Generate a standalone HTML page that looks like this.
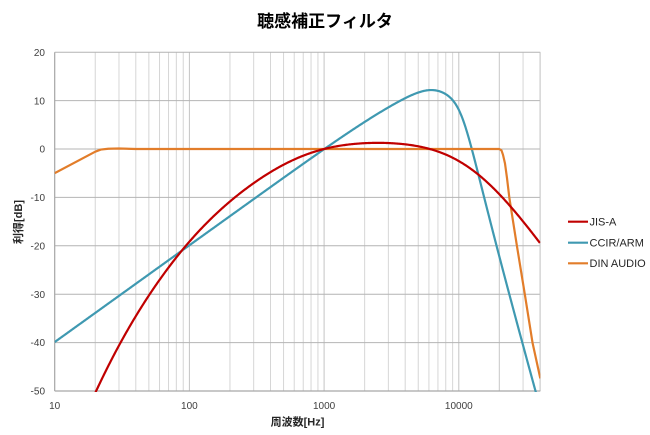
<!DOCTYPE html>
<html>
<head>
<meta charset="utf-8">
<style>
  html,body{margin:0;padding:0;background:#fff;}
  body{width:650px;height:435px;overflow:hidden;}
  svg{display:block;}
  text{font-family:"Liberation Sans","Noto Sans CJK JP",sans-serif;}
  .tk{font-size:10px;fill:#404040;}
  .lg{font-size:11px;fill:#262626;}
  .ttl{font-size:17px;font-weight:bold;fill:#000;}
  .ax{font-size:11px;font-weight:bold;fill:#262626;}
</style>
</head>
<body>
<svg id="c" width="650" height="435" viewBox="0 0 650 435" xmlns="http://www.w3.org/2000/svg">
  <rect width="650" height="435" fill="#fff"/>
  <g id="grid"></g>
  <g id="series" clip-path="url(#clp)"></g>
  <defs><clipPath id="clp"><rect x="54.7" y="50" width="485.6" height="342"/></clipPath></defs>
  <text class="ttl" x="325" y="27" text-anchor="middle">聴感補正フィルタ</text>
  <g class="tk" text-anchor="end">
    <text x="45" y="56">20</text>
    <text x="45" y="104.5">10</text>
    <text x="45" y="152.5">0</text>
    <text x="45" y="201">-10</text>
    <text x="45" y="249.5">-20</text>
    <text x="45" y="298">-30</text>
    <text x="45" y="346">-40</text>
    <text x="45" y="394.5">-50</text>
  </g>
  <g class="tk" text-anchor="middle">
    <text x="54.7" y="409">10</text>
    <text x="189.4" y="409">100</text>
    <text x="324.1" y="409">1000</text>
    <text x="458.8" y="409">10000</text>
  </g>
  <text class="ax" x="297.5" y="425.5" text-anchor="middle">周波数[Hz]</text>
  <text class="ax" transform="translate(22,222) rotate(-90)" text-anchor="middle">利得[dB]</text>
  <g>
    <line x1="568" y1="221.7" x2="588" y2="221.7" stroke="#C00000" stroke-width="2.2"/>
    <line x1="568" y1="242.7" x2="588" y2="242.7" stroke="#3F99B1" stroke-width="2.2"/>
    <line x1="568" y1="263.3" x2="588" y2="263.3" stroke="#E27D2A" stroke-width="2.2"/>
    <text class="lg" x="589.5" y="225.5">JIS-A</text>
    <text class="lg" x="589.5" y="246.5">CCIR/ARM</text>
    <text class="lg" x="589.5" y="267">DIN AUDIO</text>
  </g>
</svg>
<script>
(function(){
  var NS="http://www.w3.org/2000/svg";
  var L=54.7,R=540.3,T=52.2,B=391,D=134.7;
  function X(f){return L+(Math.log10(f)-1)*D;}
  function Y(db){return 149-db*4.84;}
  var g=document.getElementById('grid');
  function line(x1,y1,x2,y2,c,w){var e=document.createElementNS(NS,'line');
    e.setAttribute('x1',x1);e.setAttribute('y1',y1);e.setAttribute('x2',x2);e.setAttribute('y2',y2);
    e.setAttribute('stroke',c);e.setAttribute('stroke-width',w||1);g.appendChild(e);}
  for(var dec=10;dec<=10000;dec*=10){
    for(var m=1;m<=9;m++){
      var f=dec*m; if(f>40000) break;
      var x=X(f); if(x<L+0.5) continue;
      line(x,T,x,B,m==1?'#c4c4c4':'#d6d6d6',1);
    }
  }
  line(X(20000),T,X(20000),B,'#d0d0d0',1);
  for(var d=20;d>-50;d-=10){line(L,Y(d),R,Y(d),'#b4b4b4',1);}
  line(R,T,R,B,'#d0d0d0',1);
  line(L,B,R,B,'#a6a6a6',1.2);
  line(L,T,L,B,'#a6a6a6',1.2);

  var s=document.getElementById('series');
  function path(pts,c){var d='';for(var i=0;i<pts.length;i++){d+=(i?'L':'M')+pts[i][0].toFixed(2)+','+pts[i][1].toFixed(2);}
    var e=document.createElementNS(NS,'path');e.setAttribute('d',d);e.setAttribute('fill','none');
    e.setAttribute('stroke',c);e.setAttribute('stroke-width','2.2');e.setAttribute('stroke-linejoin','round');s.appendChild(e);}
  function A(f){var f2=f*f;var r=Math.pow(12194,2)*f2*f2/((f2+20.6*20.6)*Math.sqrt((f2+107.7*107.7)*(f2+737.9*737.9))*(f2+12194*12194));return 20*Math.log10(r)+2.0;}
  function C(f){var h1=-4.737338981378384e-24*Math.pow(f,6)+2.043828333606125e-15*Math.pow(f,4)-1.363894795463638e-7*f*f+1;
    var h2=1.306612257412824e-19*Math.pow(f,5)-2.118150887518656e-11*Math.pow(f,3)+5.559488023498642e-4*f;
    var r=1.246332637532143e-4*f/Math.sqrt(h1*h1+h2*h2);return 18.2+20*Math.log10(r);}
  var pa=[],pc=[];
  for(var i=0;i<=600;i++){var lf=1+3.6021*i/600;var f=Math.pow(10,lf);
    var a=A(f); if(a>-53) pa.push([X(f),Y(a)]);
    var c=C(f); if(c>-53) pc.push([X(f),Y(c)]);}
  path(pc,'#3F99B1');
  var pd=[[L,Y(-5)],[X(20),Y(-0.55)],[X(22),Y(-0.12)],[X(25),Y(0.05)],[X(30),Y(0.1)],[X(40),Y(0)],[X(20000),Y(0)],
    [501.5,Y(-0.3)],[503,Y(-1.2)],[505,Y(-3)],[507,Y(-6)],[509.3,Y(-10)],[516.9,Y(-20)],[524.8,Y(-30)],[532.5,Y(-40)],[540.3,Y(-47.4)]];
  path(pd,'#E27D2A');
  path(pa,'#C00000');
})();
</script>
</body>
</html>
